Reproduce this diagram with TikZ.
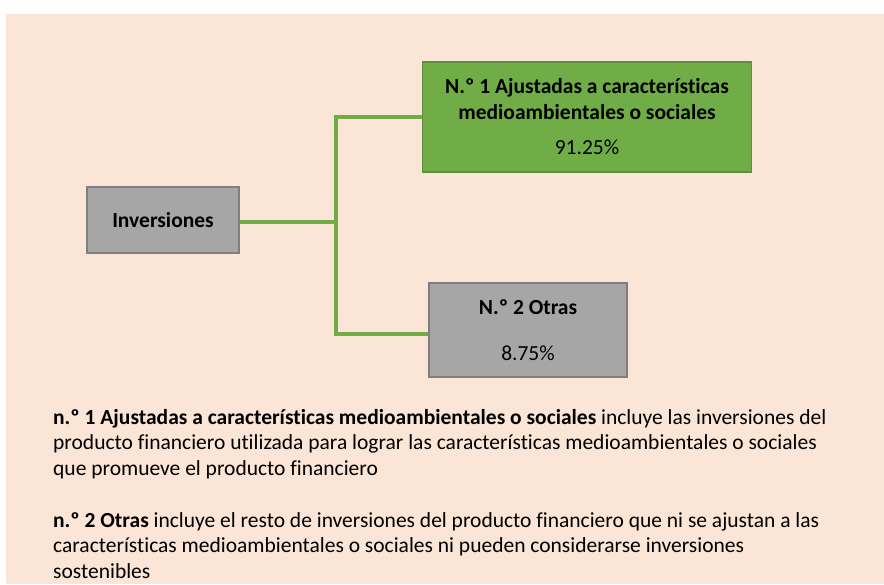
\documentclass[tikz,border=0pt]{standalone}
\usepackage{fontspec}
\setmainfont{Carlito}[Ligatures=NoCommon]
\usetikzlibrary{positioning, calc}
\definecolor{peach}{HTML}{FBE5D6}
\definecolor{leaf}{HTML}{70AD47}
\definecolor{leafdark}{HTML}{5E8E3E}
\definecolor{greybox}{HTML}{A6A6A6}
\definecolor{greyline}{HTML}{7F7F7F}
\tikzstyle{box} = [draw=greyline, fill=greybox, line width=1.2pt, inner sep=0pt, align=center, font=\fontsize{21.5}{25.5}\selectfont]
\tikzstyle{green_box} = [box, draw=leafdark, fill=leaf]
\tikzstyle{branch} = [draw=leaf, line width=3.5pt]
\tikzstyle{note} = [anchor=base west, align=left, inner sep=0pt, font=\fontsize{21.5}{25.5}\selectfont]

\begin{document}
\begin{tikzpicture}[x=1pt, y=-1pt]
  \useasboundingbox (0,0) rectangle (884,584);
  \fill [peach] (6,14) rectangle (884,584);
  \node (inv) [box, minimum width=152pt, minimum height=66pt] at (163,220) {\textbf{Inversiones}};
  \node (g1) [green_box, minimum width=329pt, minimum height=110pt] at (587,117) {\textbf{N.º 1 Ajustadas a características}\\\textbf{medioambientales o sociales}\\[10pt]91.25\%};
  \node (g2) [box, minimum width=198pt, minimum height=94pt] at (528,330) {\textbf{N.º 2 Otras}\\[20pt]8.75\%};
  \coordinate (split) at (336,222);
  \draw [branch] (inv.east |- split) -- (split);
  \draw [branch] (split) |- (g1.west);
  \draw [branch] (split) |- ([yshift=-4pt]g2.west);
  % notes under the chart (anchored on the last line)
  \node (note1) [note] at (53,475) {\textbf{n.º 1 Ajustadas a características medioambientales o sociales} incluye las inversiones del\\producto financiero utilizada para lograr las características medioambientales o sociales\\que promueve el producto financiero};
  \node (note2) [note] at (53,578) {\textbf{n.º 2 Otras} incluye el resto de inversiones del producto financiero que ni se ajustan a las\\características medioambientales o sociales ni pueden considerarse inversiones\\sostenibles};
\end{tikzpicture}
\end{document}
